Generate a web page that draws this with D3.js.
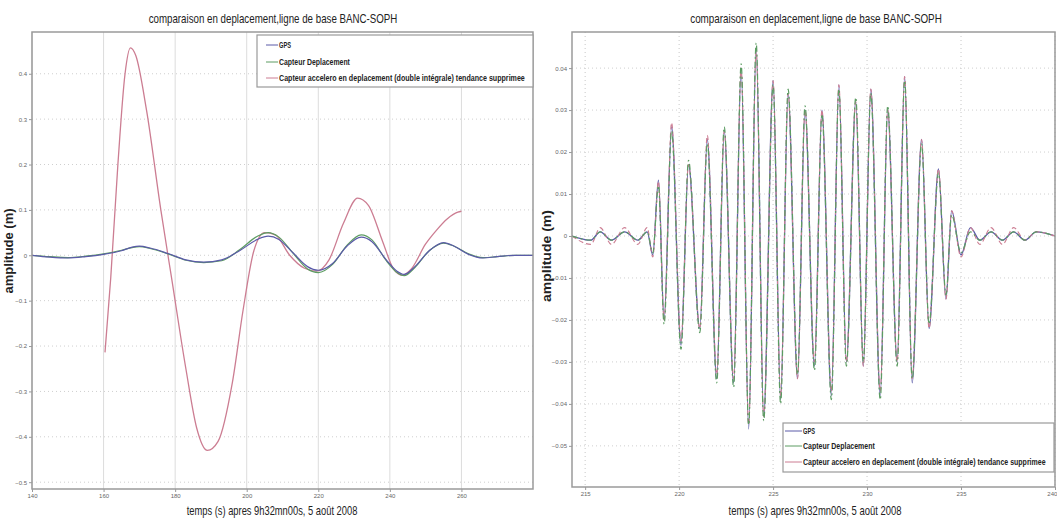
<!DOCTYPE html>
<html>
<head>
<meta charset="utf-8">
<script src="https://cdn.jsdelivr.net/npm/d3@7"></script>
<style>
  body { margin: 0; background: #fff; }
  svg { display: block; }
  text { font-family: "Liberation Sans Narrow", "Arial Narrow", "Liberation Sans", sans-serif; }
</style>
</head>
<body>
<svg id="chart" width="1057" height="519"></svg>
<script>
// ---- Left panel: slow test (seconds after 9h32mn00s) ----
const leftXTicks = [140, 160, 180, 200, 220, 240, 260];
const leftYTicks = [0.4, 0.3, 0.2, 0.1, 0, -0.1, -0.2, -0.3, -0.4, -0.5];

const leftGpsT = [140, 145, 150, 155, 160, 165, 168, 170, 173, 178, 183, 188, 193, 198, 203, 206, 209, 213, 217, 220, 224, 228, 232, 235, 239, 242, 244, 247, 251, 255, 258, 262, 266, 270, 275, 280];
const leftGpsV = [0.000, -0.004, -0.006, -0.003, 0.002, 0.010, 0.018, 0.020, 0.016, 0.004, -0.010, -0.015, -0.010, 0.010, 0.035, 0.042, 0.035, 0.005, -0.025, -0.033, -0.018, 0.020, 0.040, 0.030, -0.010, -0.035, -0.042, -0.025, 0.010, 0.028, 0.020, 0.002, -0.006, -0.003, 0.000, 0.000];

const leftCapT = [140, 145, 150, 155, 160, 165, 168, 170, 173, 178, 183, 188, 193, 198, 203, 206, 209, 213, 217, 220, 224, 228, 232, 235, 239, 242, 244, 247, 251, 255, 258, 262, 266, 270, 275, 280];
const leftCapV = [0.000, -0.003, -0.005, -0.002, 0.003, 0.011, 0.017, 0.019, 0.015, 0.003, -0.011, -0.016, -0.012, 0.012, 0.042, 0.050, 0.040, 0.004, -0.030, -0.038, -0.020, 0.022, 0.045, 0.034, -0.012, -0.038, -0.045, -0.027, 0.010, 0.027, 0.020, 0.003, -0.005, -0.003, 0.000, 0.000];

const leftAccT = [160.4, 162, 164, 166, 167.5, 169, 172, 176, 179, 183, 186, 189, 192, 196, 199, 202, 205, 208, 212, 216, 219.5, 223, 227, 231, 234, 238, 241, 243.5, 246, 250, 253, 256, 259, 260];
const leftAccV = [-0.214, -0.05, 0.20, 0.40, 0.457, 0.44, 0.32, 0.10, -0.05, -0.25, -0.38, -0.43, -0.41, -0.28, -0.12, 0.01, 0.05, 0.045, 0.0, -0.028, -0.035, -0.01, 0.07, 0.126, 0.11, 0.03, -0.03, -0.044, -0.03, 0.025, 0.055, 0.08, 0.095, 0.097];

// ---- Right panel: fast oscillation test ----
const rightXTicks = [215, 220, 225, 230, 235, 240];
const rightYTicks = [0.04, 0.03, 0.02, 0.01, 0, -0.01, -0.02, -0.03, -0.04, -0.05];

const rightT = [214.3, 215.3, 215.8, 216.4, 217.1, 217.8, 218.3, 218.6, 218.9, 219.2, 219.6, 220.1, 220.5, 221.1, 221.5, 222.0, 222.4, 222.9, 223.3, 223.7, 224.1, 224.5, 225.0, 225.4, 225.8, 226.3, 226.7, 227.2, 227.6, 228.1, 228.5, 228.9, 229.4, 229.8, 230.2, 230.7, 231.1, 231.6, 232.0, 232.4, 232.9, 233.3, 233.8, 234.2, 234.5, 235.0, 235.5, 236.0, 236.6, 237.2, 237.8, 238.4, 239.0, 240.0];
const rightGps = [0.000, -0.001, 0.001, -0.001, 0.001, -0.001, 0.001, -0.0045, 0.0133, -0.020, 0.026, -0.026, 0.017, -0.022, 0.023, -0.034, 0.025, -0.035, 0.040, -0.046, 0.045, -0.043, 0.037, -0.039, 0.034, -0.034, 0.030, -0.031, 0.030, -0.038, 0.036, -0.030, 0.032, -0.031, 0.035, -0.038, 0.030, -0.030, 0.038, -0.035, 0.023, -0.022, 0.016, -0.015, 0.006, -0.0045, 0.002, -0.001, 0.001, -0.001, 0.001, -0.001, 0.001, 0.000];
const rightCap = [0.000, -0.001, 0.001, -0.001, 0.001, -0.001, 0.001, -0.004, 0.012, -0.021, 0.025, -0.027, 0.018, -0.023, 0.022, -0.035, 0.026, -0.036, 0.041, -0.045, 0.046, -0.044, 0.036, -0.040, 0.035, -0.033, 0.031, -0.032, 0.029, -0.039, 0.035, -0.031, 0.033, -0.030, 0.034, -0.039, 0.031, -0.031, 0.037, -0.034, 0.022, -0.021, 0.015, -0.014, 0.005, -0.004, 0.001, -0.001, 0.001, -0.001, 0.001, -0.001, 0.001, 0.000];
const rightAcc = [0.000, -0.002, 0.002, -0.002, 0.002, -0.002, 0.002, -0.005, 0.013, -0.020, 0.027, -0.025, 0.017, -0.022, 0.024, -0.033, 0.025, -0.034, 0.040, -0.045, 0.044, -0.043, 0.037, -0.038, 0.034, -0.034, 0.030, -0.030, 0.030, -0.037, 0.036, -0.030, 0.032, -0.031, 0.035, -0.037, 0.030, -0.030, 0.038, -0.034, 0.023, -0.022, 0.016, -0.015, 0.006, -0.005, 0.002, -0.002, 0.002, -0.002, 0.002, -0.001, 0.001, 0.000];

const titleText = "comparaison en deplacement,ligne de base BANC-SOPH";
const xLabelText = "temps (s) apres 9h32mn00s, 5 ao\u00fbt 2008";
const yLabelText = "amplitude (m)";
const legendNames = ["GPS", "Capteur Deplacement", "Capteur accelero en deplacement (double int\u00e9grale) tendance supprimee"];

const colGps = "#5a5aa8";
const colCap = "#5c9c62";
const colAcc = "#cc7d92";

const svg = d3.select("#chart");
svg.append("rect").attr("width", 1057).attr("height", 519).attr("fill", "#fff");

// Condensed text: draw at the origin of a group, then squeeze horizontally to the wanted width.
function squeezed(parent, x, y, width, rotate, anchor) {
  const grp = parent.append("g");
  const t = grp.append("text").attr("x", 0).attr("y", 0).attr("text-anchor", anchor);
  return {
    text: t,
    fit() {
      const w = t.node().getComputedTextLength();
      const sx = width / w;
      grp.attr("transform", `translate(${x},${y})${rotate ? " rotate(-90)" : ""} scale(${sx},1)`);
      return t;
    }
  };
}

function panel(cfg) {
  const x = d3.scaleLinear().domain(cfg.xDomain).range(cfg.xRange);
  const y = d3.scaleLinear().domain(cfg.yDomain).range(cfg.yRange);
  const g = svg.append("g");
  const [x0, x1] = cfg.xRange, [y1, y0] = cfg.yRange;

  // grid
  g.append("g").selectAll("line").data(cfg.xTicks).join("line")
    .attr("x1", d => x(d)).attr("x2", d => x(d)).attr("y1", y0).attr("y2", y1)
    .attr("stroke", cfg.vColor).attr("stroke-width", 1).attr("stroke-dasharray", cfg.vDash);
  g.append("g").selectAll("line").data(cfg.yTicks).join("line")
    .attr("x1", x0).attr("x2", x1).attr("y1", d => y(d)).attr("y2", d => y(d))
    .attr("stroke", "#cfcfcf").attr("stroke-width", 1).attr("stroke-dasharray", "1,3");

  // axes
  const ax = g.append("g").attr("transform", `translate(0,${y1})`)
    .call(d3.axisBottom(x).tickValues(cfg.xTicks).tickSize(3).tickPadding(2).tickFormat(d3.format("d")));
  const ay = g.append("g").attr("transform", `translate(${x0},0)`)
    .call(d3.axisLeft(y).tickValues(cfg.yTicks).tickSize(3).tickPadding(2).tickFormat(cfg.yFormat));
  [ax, ay].forEach(a => {
    a.select(".domain").remove();
    a.selectAll(".tick line").attr("stroke", "#999");
    a.selectAll(".tick text").attr("fill", "#666").attr("font-size", 6)
      .style("font-family", '"Liberation Sans Narrow", "Liberation Sans", sans-serif');
  });
  // a label sitting on the right edge of the window is kept inside it
  ax.selectAll(".tick text").filter(d => x(d) > 1045).attr("text-anchor", "end").attr("dx", "0.3em");

  // series
  const clipId = "clip" + cfg.id;
  svg.append("clipPath").attr("id", clipId).append("rect")
    .attr("x", x0).attr("y", y0).attr("width", x1 - x0).attr("height", y1 - y0);
  const line = d3.line().x(d => x(d[0])).y(d => y(d[1])).curve(d3.curveMonotoneX);
  const lines = g.append("g").attr("clip-path", `url(#${clipId})`);
  cfg.series.forEach(s => {
    lines.append("path").datum(d3.zip(s.t, s.v))
      .attr("d", line).attr("fill", "none").attr("stroke", s.color)
      .attr("stroke-width", s.width).attr("stroke-dasharray", s.dash || null);
  });

  // frame
  g.append("rect").attr("x", x0).attr("y", y0).attr("width", x1 - x0).attr("height", y1 - y0)
    .attr("fill", "none").attr("stroke", "#9a9a9a").attr("stroke-width", 1.5);

  // titles
  const ti = squeezed(g, cfg.title[0], cfg.title[1], cfg.title[2], false, "middle");
  ti.text.attr("font-size", 13).attr("fill", "#222").text(titleText);
  ti.fit();
  const xl = squeezed(g, cfg.xLab[0], cfg.xLab[1], cfg.xLab[2], false, "middle");
  xl.text.attr("font-size", 12.5).attr("fill", "#222").text(xLabelText);
  xl.fit();
  const yl = squeezed(g, cfg.yLab[0], cfg.yLab[1], cfg.yLab[2], true, "middle");
  yl.text.attr("font-size", 12).attr("font-weight", "bold").attr("fill", "#222")
    .style("font-family", '"Liberation Sans", Arial, sans-serif').text(yLabelText);
  yl.fit();

  // legend
  const L = cfg.legend;
  const lg = g.append("g");
  lg.append("rect").attr("x", L.x).attr("y", L.y).attr("width", L.w).attr("height", L.h)
    .attr("fill", "#fff").attr("stroke", "#9a9a9a").attr("stroke-width", 1.2);
  const cols = [colGps, colCap, colAcc];
  legendNames.forEach((name, i) => {
    const yy = L.rows[i];
    lg.append("line").attr("x1", L.lx0).attr("x2", L.lx1).attr("y1", yy).attr("y2", yy)
      .attr("stroke", cols[i]).attr("stroke-width", 1);
    const t = squeezed(lg, L.tx, yy + 3, L.widths[i], false, "start");
    t.text.attr("font-size", 8.5).attr("font-weight", "bold").attr("fill", "#222").text(name);
    t.fit();
  });
}

panel({
  id: "L",
  xDomain: [140, 280], xRange: [32, 533],
  yDomain: [-0.515, 0.492], yRange: [489, 32],
  xTicks: leftXTicks, yTicks: leftYTicks, yFormat: d => d3.format("")(d),
  vDash: null, vColor: "#dcdcdc",
  series: [
    { t: leftAccT, v: leftAccV, color: colAcc, width: 1.3 },
    { t: leftCapT, v: leftCapV, color: colCap, width: 1.2 },
    { t: leftGpsT, v: leftGpsV, color: colGps, width: 1.2 }
  ],
  title: [273, 23, 249],
  xLab: [272, 515, 171],
  yLab: [13, 251, 85],
  legend: { x: 257, y: 35, w: 276, h: 52, rows: [45, 62, 78], lx0: 266, lx1: 278, tx: 279, widths: [12, 71, 246] }
});

panel({
  id: "R",
  xDomain: [214.3, 240], xRange: [572, 1055],
  yDomain: [-0.0598, 0.0486], yRange: [487, 32],
  xTicks: rightXTicks, yTicks: rightYTicks, yFormat: d => d3.format("")(d),
  vDash: "1,3", vColor: "#c8c8c8",
  series: [
    { t: rightT, v: rightGps, color: colGps, width: 1.3 },
    { t: rightT, v: rightAcc, color: colAcc, width: 1.1, dash: "5,3" },
    { t: rightT, v: rightCap, color: colCap, width: 1.2, dash: "6,3,2,3" }
  ],
  title: [816, 23, 252],
  xLab: [815, 515, 173],
  yLab: [551, 256, 92],
  legend: { x: 783, y: 423, w: 271, h: 49, rows: [431, 446, 462], lx0: 785, lx1: 802, tx: 803, widths: [12, 72, 243] }
});
</script>
</body>
</html>
